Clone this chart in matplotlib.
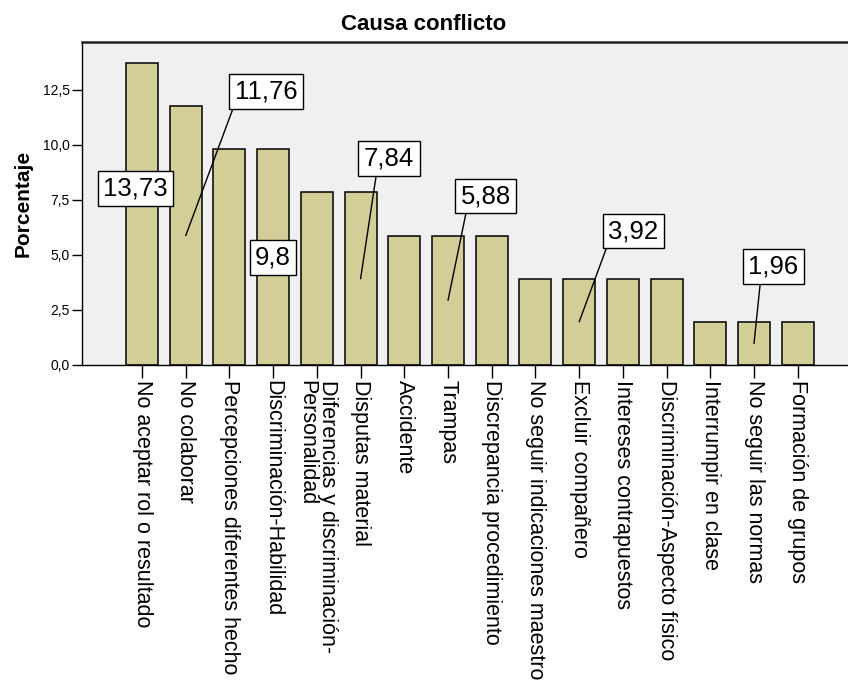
import matplotlib
matplotlib.use("Agg")
import matplotlib.pyplot as plt
from matplotlib.transforms import ScaledTranslation

plt.rcParams['font.family'] = ['Liberation Sans', 'DejaVu Sans']

categories = [
    "No aceptar rol o resultado",
    "No colaborar",
    "Percepciones diferentes hecho",
    "Discriminación-Habilidad",
    "Diferencias y discriminación-\nPersonalidad",
    "Disputas material",
    "Accidente",
    "Trampas",
    "Discrepancia procedimiento",
    "No seguir indicaciones maestro",
    "Excluir compañero",
    "Intereses contrapuestos",
    "Discriminación-Aspecto físico",
    "Interrumpir en clase",
    "No seguir las normas",
    "Formación de grupos",
]
values = [13.73, 11.76, 9.8, 9.8, 7.84, 7.84, 5.88, 5.88, 5.88,
          3.92, 3.92, 3.92, 3.92, 1.96, 1.96, 1.96]
yticks = [0, 2.5, 5, 7.5, 10, 12.5]
ytick_labels = ["0,0", "2,5", "5,0", "7,5", "10,0", "12,5"]
labeled_bars = [0, 1, 3, 5, 7, 10, 14]

# layout of the label boxes (data coords) and where the leader leaves the text
box_xy = {0: (-0.15, 8.02), 1: (2.84, 12.43), 3: (3.0, 4.9), 5: (5.65, 9.39),
          7: (7.86, 7.68), 10: (11.24, 6.09), 14: (14.44, 4.48)}
leader = {0: None, 1: 0.0, 3: None, 5: 0.26, 7: 0.13, 10: 0.0, 14: 0.25}

W, H = 848, 682
fig = plt.figure(figsize=(W / 100, H / 100), dpi=100)
ax = fig.add_axes([82 / W, (H - 365) / H, (862 - 82) / W, (365 - 42) / H])
ax.set_facecolor('#F0F0F0')

x = list(range(len(categories)))
ax.bar(x, values, width=0.73, color='#D3CE97', edgecolor='black', linewidth=1.1, zorder=2)

ax.set_xlim(-1.373, 16.47)
ax.set_ylim(0, 14.68)

ax.set_yticks(yticks)
ax.set_yticklabels(ytick_labels, fontsize=10)
ax.set_xticks(x)
ax.set_xticklabels(categories, rotation=-90, ha='center', va='top', fontsize=15.5,
                   linespacing=1.0, multialignment='left')
for lab in ax.get_xticklabels():
    lab.set_transform(lab.get_transform() + ScaledTranslation(-4 / 100, 0, fig.dpi_scale_trans))

ax.tick_params(axis='x', length=9.5, width=1, pad=1, color='black')
ax.tick_params(axis='y', length=7, width=1, pad=2, color='black')

for s in ['left', 'bottom']:
    ax.spines[s].set_linewidth(1.0)
    ax.spines[s].set_color('black')
ax.spines['top'].set_linewidth(1.8)
ax.spines['top'].set_color('#222222')
ax.spines['right'].set_visible(False)

fig.text(0.5, 1 - 24 / H, "Causa conflicto", fontsize=16, fontweight='bold',
         ha='center', va='center')
ax.set_ylabel("Porcentaje", fontsize=15, fontweight='bold', labelpad=7)

for i in labeled_bars:
    v = values[i]
    txt = f"{v:g}".replace('.', ',')
    kw = {}
    if leader[i] is not None:
        kw['arrowprops'] = dict(arrowstyle='-', color='black', lw=1.0,
                                relpos=(leader[i], 0.0), shrinkA=0, shrinkB=0)
    ax.annotate(txt, xy=(i, v / 2), xytext=box_xy[i], textcoords='data',
                ha='center', va='center', fontsize=18.5, zorder=5,
                bbox=dict(boxstyle='square,pad=0.21', fc='white', ec='black', lw=1.0),
                **kw)

fig.savefig("out.png", dpi=100)
